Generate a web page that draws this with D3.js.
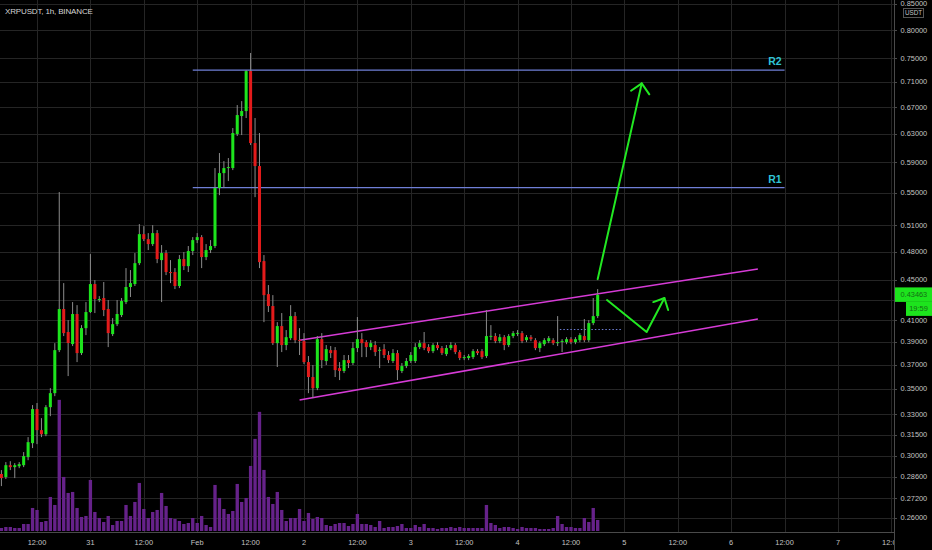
<!DOCTYPE html>
<html><head><meta charset="utf-8">
<script src="https://cdn.jsdelivr.net/npm/d3@7"></script>
<style>html,body{margin:0;padding:0;background:#000;overflow:hidden}svg{display:block}</style>
</head><body><svg id="c" width="932" height="550"></svg>
<script>
// ---------- DATA ----------
const title = "XRPUSDT, 1h, BINANCE";
const startTime = "2021-01-30T04:00";   // first hourly candle
const viewStart = "2021-01-30T03:41";
const viewEnd = "2021-02-07T12:22";
const priceMin = 0.2523, priceMax = 0.8573;
const opens = [
0.2877,0.2857,0.2936,0.2923,0.2929,0.2936,0.2991,0.3089,0.3341,0.3183,
0.3153,0.3356,0.3466,0.3827,0.4207,0.3990,0.3881,0.4159,0.3801,0.4026,
0.4178,0.4456,0.4295,0.4315,0.4207,0.3971,0.4063,0.4149,0.4275,0.4426,
0.4456,0.4676,0.4999,0.4942,0.4886,0.5011,0.4709,0.4786,0.4581,0.4581,
0.4436,0.4720,0.4644,0.4808,0.4931,0.4965,0.4742,0.4819,0.4864,0.5559,
0.5754,0.5821,0.5821,0.6295,0.6562,0.6638,0.7278,0.6166,0.5848,0.4698,
0.4354,0.4236,0.3889,0.4045,0.3872,0.3934,0.4139,0.3916,0.3907,0.3723,
0.3597,0.3506,0.3925,0.3732,0.3827,0.3827,0.3672,0.3647,0.3740,0.3715,
0.3845,0.3925,0.3898,0.3854,0.3872,0.3827,0.3836,0.3784,0.3732,0.3801,
0.3647,0.3689,0.3732,0.3732,0.3854,0.3889,0.3854,0.3818,0.3872,0.3845,
0.3792,0.3845,0.3872,0.3810,0.3758,0.3758,0.3766,0.3818,0.3818,0.3775,
0.3953,0.3953,0.3907,0.3943,0.3872,0.3953,0.3980,0.3980,0.3916,0.3943,
0.3916,0.3845,0.3880,0.3907,0.3916,0.3889,0.3907,0.3898,0.3925,0.3898,
0.3916,0.3953,0.3916,0.4073,0.4139];
const highs = [
0.2903,0.2957,0.2963,0.2950,0.2957,0.3026,0.3132,0.3372,0.3388,0.3272,
0.3372,0.3506,0.3889,0.5508,0.4466,0.4101,0.4275,0.4245,0.4054,0.4275,
0.4775,0.4497,0.4334,0.4477,0.4295,0.4120,0.4295,0.4315,0.4623,0.4602,
0.4786,0.5116,0.5092,0.5011,0.5104,0.5046,0.4875,0.4819,0.4709,0.4623,
0.4764,0.4797,0.4864,0.4965,0.5011,0.4988,0.4886,0.4931,0.5821,0.6026,
0.5915,0.5957,0.6383,0.6730,0.6792,0.7295,0.7588,0.6532,0.6310,0.4764,
0.4446,0.4344,0.4082,0.4168,0.4008,0.4245,0.4178,0.4026,0.3980,0.3775,
0.3698,0.3953,0.3980,0.3872,0.3863,0.3854,0.3723,0.3784,0.3784,0.3898,
0.4130,0.3980,0.3916,0.3916,0.3907,0.3854,0.3880,0.3818,0.3836,0.3827,
0.3715,0.3758,0.3810,0.3889,0.3916,0.3990,0.3880,0.3889,0.3898,0.3863,
0.3872,0.3898,0.3889,0.3827,0.3784,0.3792,0.3836,0.3836,0.3836,0.4197,
0.4054,0.3980,0.3971,0.3962,0.3971,0.3999,0.4008,0.3999,0.3962,0.3962,
0.3934,0.3907,0.3934,0.3953,0.3934,0.4139,0.3925,0.3943,0.3943,0.3943,
0.3980,0.4111,0.4101,0.4315,0.4405];
const lows = [
0.2798,0.2844,0.2903,0.2850,0.2916,0.2923,0.2970,0.3054,0.3082,0.3132,
0.3139,0.3287,0.3442,0.3810,0.3953,0.3605,0.3863,0.3723,0.3784,0.3962,
0.4168,0.4168,0.4275,0.4139,0.3854,0.3953,0.4045,0.4130,0.4255,0.4325,
0.4436,0.4655,0.4920,0.4819,0.4864,0.4676,0.4275,0.4549,0.4466,0.4405,
0.4415,0.4602,0.4581,0.4764,0.4897,0.4623,0.4709,0.4786,0.4841,0.5469,
0.5559,0.5649,0.5794,0.6267,0.6281,0.6532,0.6138,0.5444,0.4623,0.4082,
0.4178,0.3872,0.3681,0.3810,0.3827,0.3916,0.3889,0.3784,0.3706,0.3466,
0.3427,0.3490,0.3672,0.3698,0.3758,0.3597,0.3572,0.3630,0.3672,0.3698,
0.3810,0.3766,0.3766,0.3827,0.3775,0.3672,0.3758,0.3715,0.3715,0.3572,
0.3630,0.3672,0.3715,0.3715,0.3836,0.3827,0.3801,0.3801,0.3827,0.3784,
0.3775,0.3827,0.3792,0.3740,0.3740,0.3740,0.3749,0.3784,0.3749,0.3758,
0.3916,0.3889,0.3889,0.3827,0.3854,0.3934,0.3953,0.3889,0.3898,0.3907,
0.3827,0.3810,0.3863,0.3889,0.3872,0.3863,0.3810,0.3880,0.3880,0.3880,
0.3898,0.3898,0.3898,0.4054,0.4120];
const closes = [
0.2850,0.2936,0.2923,0.2936,0.2943,0.2998,0.3096,0.3341,0.3183,0.3153,
0.3356,0.3466,0.3827,0.4207,0.3980,0.3890,0.4159,0.3801,0.4026,0.4178,
0.4456,0.4305,0.4305,0.4197,0.3980,0.4063,0.4159,0.4285,0.4426,0.4466,
0.4676,0.4999,0.4942,0.4886,0.5011,0.4720,0.4786,0.4581,0.4570,0.4436,
0.4720,0.4644,0.4808,0.4931,0.4965,0.4742,0.4819,0.4864,0.5559,0.5754,
0.5821,0.5834,0.6310,0.6577,0.6638,0.7278,0.6166,0.5848,0.4687,0.4344,
0.4236,0.3889,0.4045,0.3872,0.3943,0.4139,0.3916,0.3907,0.3723,0.3597,
0.3506,0.3925,0.3740,0.3836,0.3801,0.3655,0.3647,0.3740,0.3715,0.3845,
0.3925,0.3889,0.3854,0.3889,0.3810,0.3830,0.3784,0.3740,0.3801,0.3655,
0.3689,0.3732,0.3784,0.3854,0.3889,0.3845,0.3818,0.3872,0.3845,0.3801,
0.3845,0.3872,0.3810,0.3758,0.3766,0.3775,0.3818,0.3801,0.3766,0.3953,
0.3955,0.3907,0.3943,0.3872,0.3953,0.3980,0.3982,0.3907,0.3943,0.3925,
0.3845,0.3889,0.3916,0.3934,0.3889,0.3898,0.3909,0.3925,0.3898,0.3925,
0.3962,0.3916,0.4073,0.4139,0.43463];
const volumes = [ // x100k XRP
3,4,4,3,3,7,7,23,21,9,
10,34,26,131,54,38,39,23,14,15,
51,19,13,9,15,6,10,10,26,15,
29,48,22,13,19,21,38,25,13,12,
10,7,8,13,8,15,6,4,46,33,
22,17,20,47,29,33,65,92,119,61,
34,27,39,21,10,13,13,22,10,18,
12,14,13,6,5,7,8,8,5,7,
17,7,7,6,4,10,3,4,4,5,
7,3,3,6,4,7,3,3,2,3,
3,4,3,4,3,3,3,3,3,26,
8,6,3,4,4,3,2,4,3,3,
3,2,2,2,3,15,7,4,4,3,
3,13,9,23,11];
const priceTicks = [0.85,0.80,0.75,0.71,0.67,0.63,0.59,0.55,0.51,0.48,0.45,0.43,0.41,0.39,0.37,0.35,0.33,0.315,0.30,0.286,0.272,0.26];
const lastPrice = 0.43463, countdown = "19:59";
const levels = [{label:"R2", price:0.7295}, {label:"R1", price:0.5565}];
const levelStart = "2021-01-31T23:00", levelEnd = "2021-02-06T12:00";
const channelUpper = [{t:"2021-02-01T23:00", p:0.3916}, {t:"2021-02-06T06:00", p:0.4613}];
const channelLower = [{t:"2021-02-01T23:00", p:0.3411}, {t:"2021-02-06T06:00", p:0.4111}];
const dottedLevel = [{t:"2021-02-04T09:30", p:0.4013}, {t:"2021-02-04T23:30", p:0.4013}];
const bigArrow = [{t:"2021-02-04T18:00", p:0.4507}, {t:"2021-02-05T03:54", p:0.7075}];
const bigArrowHead = [{t:"2021-02-05T01:30", p:0.6956}, {t:"2021-02-05T03:54", p:0.7075}, {t:"2021-02-05T05:36", p:0.6899}];
const smallArrow = [{t:"2021-02-04T20:06", p:0.4295}, {t:"2021-02-05T05:00", p:0.3990}, {t:"2021-02-05T09:00", p:0.4315}];
const smallArrowHead = [{t:"2021-02-05T06:30", p:0.4275}, {t:"2021-02-05T09:00", p:0.4315}, {t:"2021-02-05T09:50", p:0.4197}];

// ---------- LAYOUT / STYLE ----------
const W = 932, H = 550, plotR = 894, plotB = 532;
const C = {bg:"#000", grid:"#252525", axis:"#4a4a4a", text:"#c4c4c4", up:"#1de41d", down:"#e31b1b",
  wick:"#8c8c8c", vol:"#66228a", level:"#6f7fd6", levelText:"#2fc3d6", channel:"#d63bd6", arrow:"#22e822"};
const FONT = "'Liberation Sans', Arial, sans-serif";

const parse = d3.utcParse("%Y-%m-%dT%H:%M");
const hour = 3600e3;
const t0 = parse(startTime);
const candles = opens.map((o,i)=>({t:new Date(+t0 + i*hour), o, h:highs[i], l:lows[i], c:closes[i], v:volumes[i]}));

const x = d3.scaleUtc().domain([parse(viewStart), parse(viewEnd)]).range([0, plotR-1]);
const y = d3.scaleLog().domain([priceMin, priceMax]).range([plotB-1, 0]);
const step = x(new Date(+t0 + hour)) - x(t0);
const yv = d3.scaleLinear().domain([0, d3.max(volumes)]).range([plotB-1, (plotB-1)*(1-0.247)]);
const P = d => [x(parse(d.t)), y(d.p)];

const svg = d3.select("#c");
svg.append("rect").attr("width",W).attr("height",H).attr("fill",C.bg);
const defs = svg.append("defs");
defs.append("clipPath").attr("id","plotClip").append("rect").attr("width",plotR).attr("height",plotB);
const g = svg.append("g").attr("clip-path","url(#plotClip)");

// grid
const xTicks = x.ticks(d3.utcHour.every(12));
g.append("g").selectAll("line").data(xTicks).join("line")
  .attr("x1",d=>Math.round(x(d))+0.5).attr("x2",d=>Math.round(x(d))+0.5).attr("y1",0).attr("y2",plotB)
  .attr("stroke",C.grid).attr("stroke-width",1);
g.append("g").selectAll("line").data(priceTicks).join("line")
  .attr("y1",d=>Math.round(y(d))+0.5).attr("y2",d=>Math.round(y(d))+0.5).attr("x1",0).attr("x2",plotR)
  .attr("stroke",C.grid).attr("stroke-width",1);

// volume
const vw = step*0.75;
g.append("g").selectAll("rect").data(candles).join("rect")
  .attr("x",d=>x(d.t)-vw/2).attr("width",vw)
  .attr("y",d=>yv(d.v)).attr("height",d=>yv(0)-yv(d.v))
  .attr("fill",C.vol);

// levels
const line = d3.line().x(d=>d[0]).y(d=>d[1]);
levels.forEach(lv=>{
  g.append("line").attr("x1",x(parse(levelStart))).attr("x2",x(parse(levelEnd)))
    .attr("y1",y(lv.price)).attr("y2",y(lv.price)).attr("stroke",C.level).attr("stroke-width",1.4);
  g.append("text").attr("x",x(parse(levelEnd))-3).attr("y",y(lv.price)-5).attr("text-anchor","end")
    .attr("font-family",FONT).attr("font-weight","bold").attr("font-size",10.5).attr("fill",C.levelText).text(lv.label);
});
[channelUpper, channelLower].forEach(ch=>{
  g.append("path").attr("d",line(ch.map(P))).attr("stroke",C.channel).attr("stroke-width",1.5).attr("fill","none");
});
g.append("path").attr("d",line(dottedLevel.map(P))).attr("stroke",C.level).attr("stroke-width",1)
  .attr("stroke-dasharray","1.5,2").attr("fill","none");

// candles
const bw = step*0.68;
const cg = g.append("g");
cg.selectAll("line").data(candles).join("line")
  .attr("x1",d=>x(d.t)).attr("x2",d=>x(d.t)).attr("y1",d=>y(d.h)).attr("y2",d=>y(d.l))
  .attr("stroke",C.wick).attr("stroke-width",1);
cg.selectAll("rect").data(candles).join("rect")
  .attr("x",d=>x(d.t)-bw/2).attr("width",bw)
  .attr("y",d=>y(Math.max(d.o,d.c))).attr("height",d=>Math.max(1,Math.abs(y(d.o)-y(d.c))))
  .attr("fill",d=>d.c>=d.o?C.up:C.down);

// arrows
[bigArrow, bigArrowHead, smallArrow, smallArrowHead].forEach(a=>{
  g.append("path").attr("d",line(a.map(P))).attr("stroke",C.arrow).attr("stroke-width",2)
    .attr("fill","none").attr("stroke-linecap","round").attr("stroke-linejoin","round");
});

// title
svg.append("text").attr("x",5).attr("y",14).attr("font-family",FONT).attr("font-size",8)
  .attr("letter-spacing",-0.15).attr("fill","#d6d6d6").text(title);

// x axis
svg.append("line").attr("x1",0).attr("x2",plotR).attr("y1",plotB+0.5).attr("y2",plotB+0.5).attr("stroke",C.axis);
defs.append("clipPath").attr("id","xClip").append("rect").attr("x",0).attr("y",plotB+1).attr("width",plotR).attr("height",H-plotB);
const fmtX = d => d.getUTCHours()===12 ? "12:00" : (d.getUTCDate()===1 ? d3.utcFormat("%b")(d) : String(d.getUTCDate()));
svg.append("g").attr("clip-path","url(#xClip)").selectAll("text").data(xTicks).join("text")
  .attr("x",d=>x(d)).attr("y",plotB+12.5).attr("text-anchor","middle")
  .attr("font-family",FONT).attr("font-size",7.4).attr("fill",C.text).text(fmtX);

// y axis
const yl = y(lastPrice);
const labelTicks = priceTicks.filter(p => Math.abs(y(p) - yl) > 9);   // the last-price badge hides nearby labels
svg.append("rect").attr("x",plotR).attr("y",0).attr("width",W-plotR).attr("height",H).attr("fill",C.bg);
svg.append("line").attr("x1",plotR+0.5).attr("x2",plotR+0.5).attr("y1",0).attr("y2",H).attr("stroke",C.axis);
const ya = svg.append("g");
ya.selectAll("line").data(priceTicks).join("line")
  .attr("x1",plotR).attr("x2",plotR+3).attr("y1",d=>Math.round(y(d))+0.5).attr("y2",d=>Math.round(y(d))+0.5).attr("stroke",C.axis);
ya.selectAll("text").data(labelTicks).join("text")
  .attr("x",plotR+6.5).attr("y",d=>y(d)+2.5).attr("font-family",FONT).attr("font-size",7.4)
  .attr("fill",C.text).text(d=>d3.format(".5f")(d));
// currency badge (sits just under the clipped top label)
svg.append("rect").attr("x",903.5).attr("y",8.5).attr("width",20).attr("height",9).attr("fill",C.bg).attr("stroke","#555");
svg.append("text").attr("x",913.5).attr("y",15.3).attr("text-anchor","middle").attr("font-family",FONT)
  .attr("font-size",6.3).attr("fill",C.text).text("USDT");
// last price badge
svg.append("rect").attr("x",plotR+1).attr("y",yl-7.5).attr("width",W-plotR-1).attr("height",14.5).attr("fill",C.up);
svg.append("text").attr("x",plotR+6.5).attr("y",yl+2.5).attr("font-family",FONT).attr("font-size",7.4)
  .attr("fill","#156b15").text(d3.format(".5f")(lastPrice));
svg.append("rect").attr("x",906).attr("y",yl+7).attr("width",W-906).attr("height",14).attr("fill",C.up);
svg.append("text").attr("x",918.5).attr("y",yl+16.5).attr("text-anchor","middle").attr("font-family",FONT).attr("font-size",7.4)
  .attr("fill","#156b15").text(countdown);
</script>
</body></html>
